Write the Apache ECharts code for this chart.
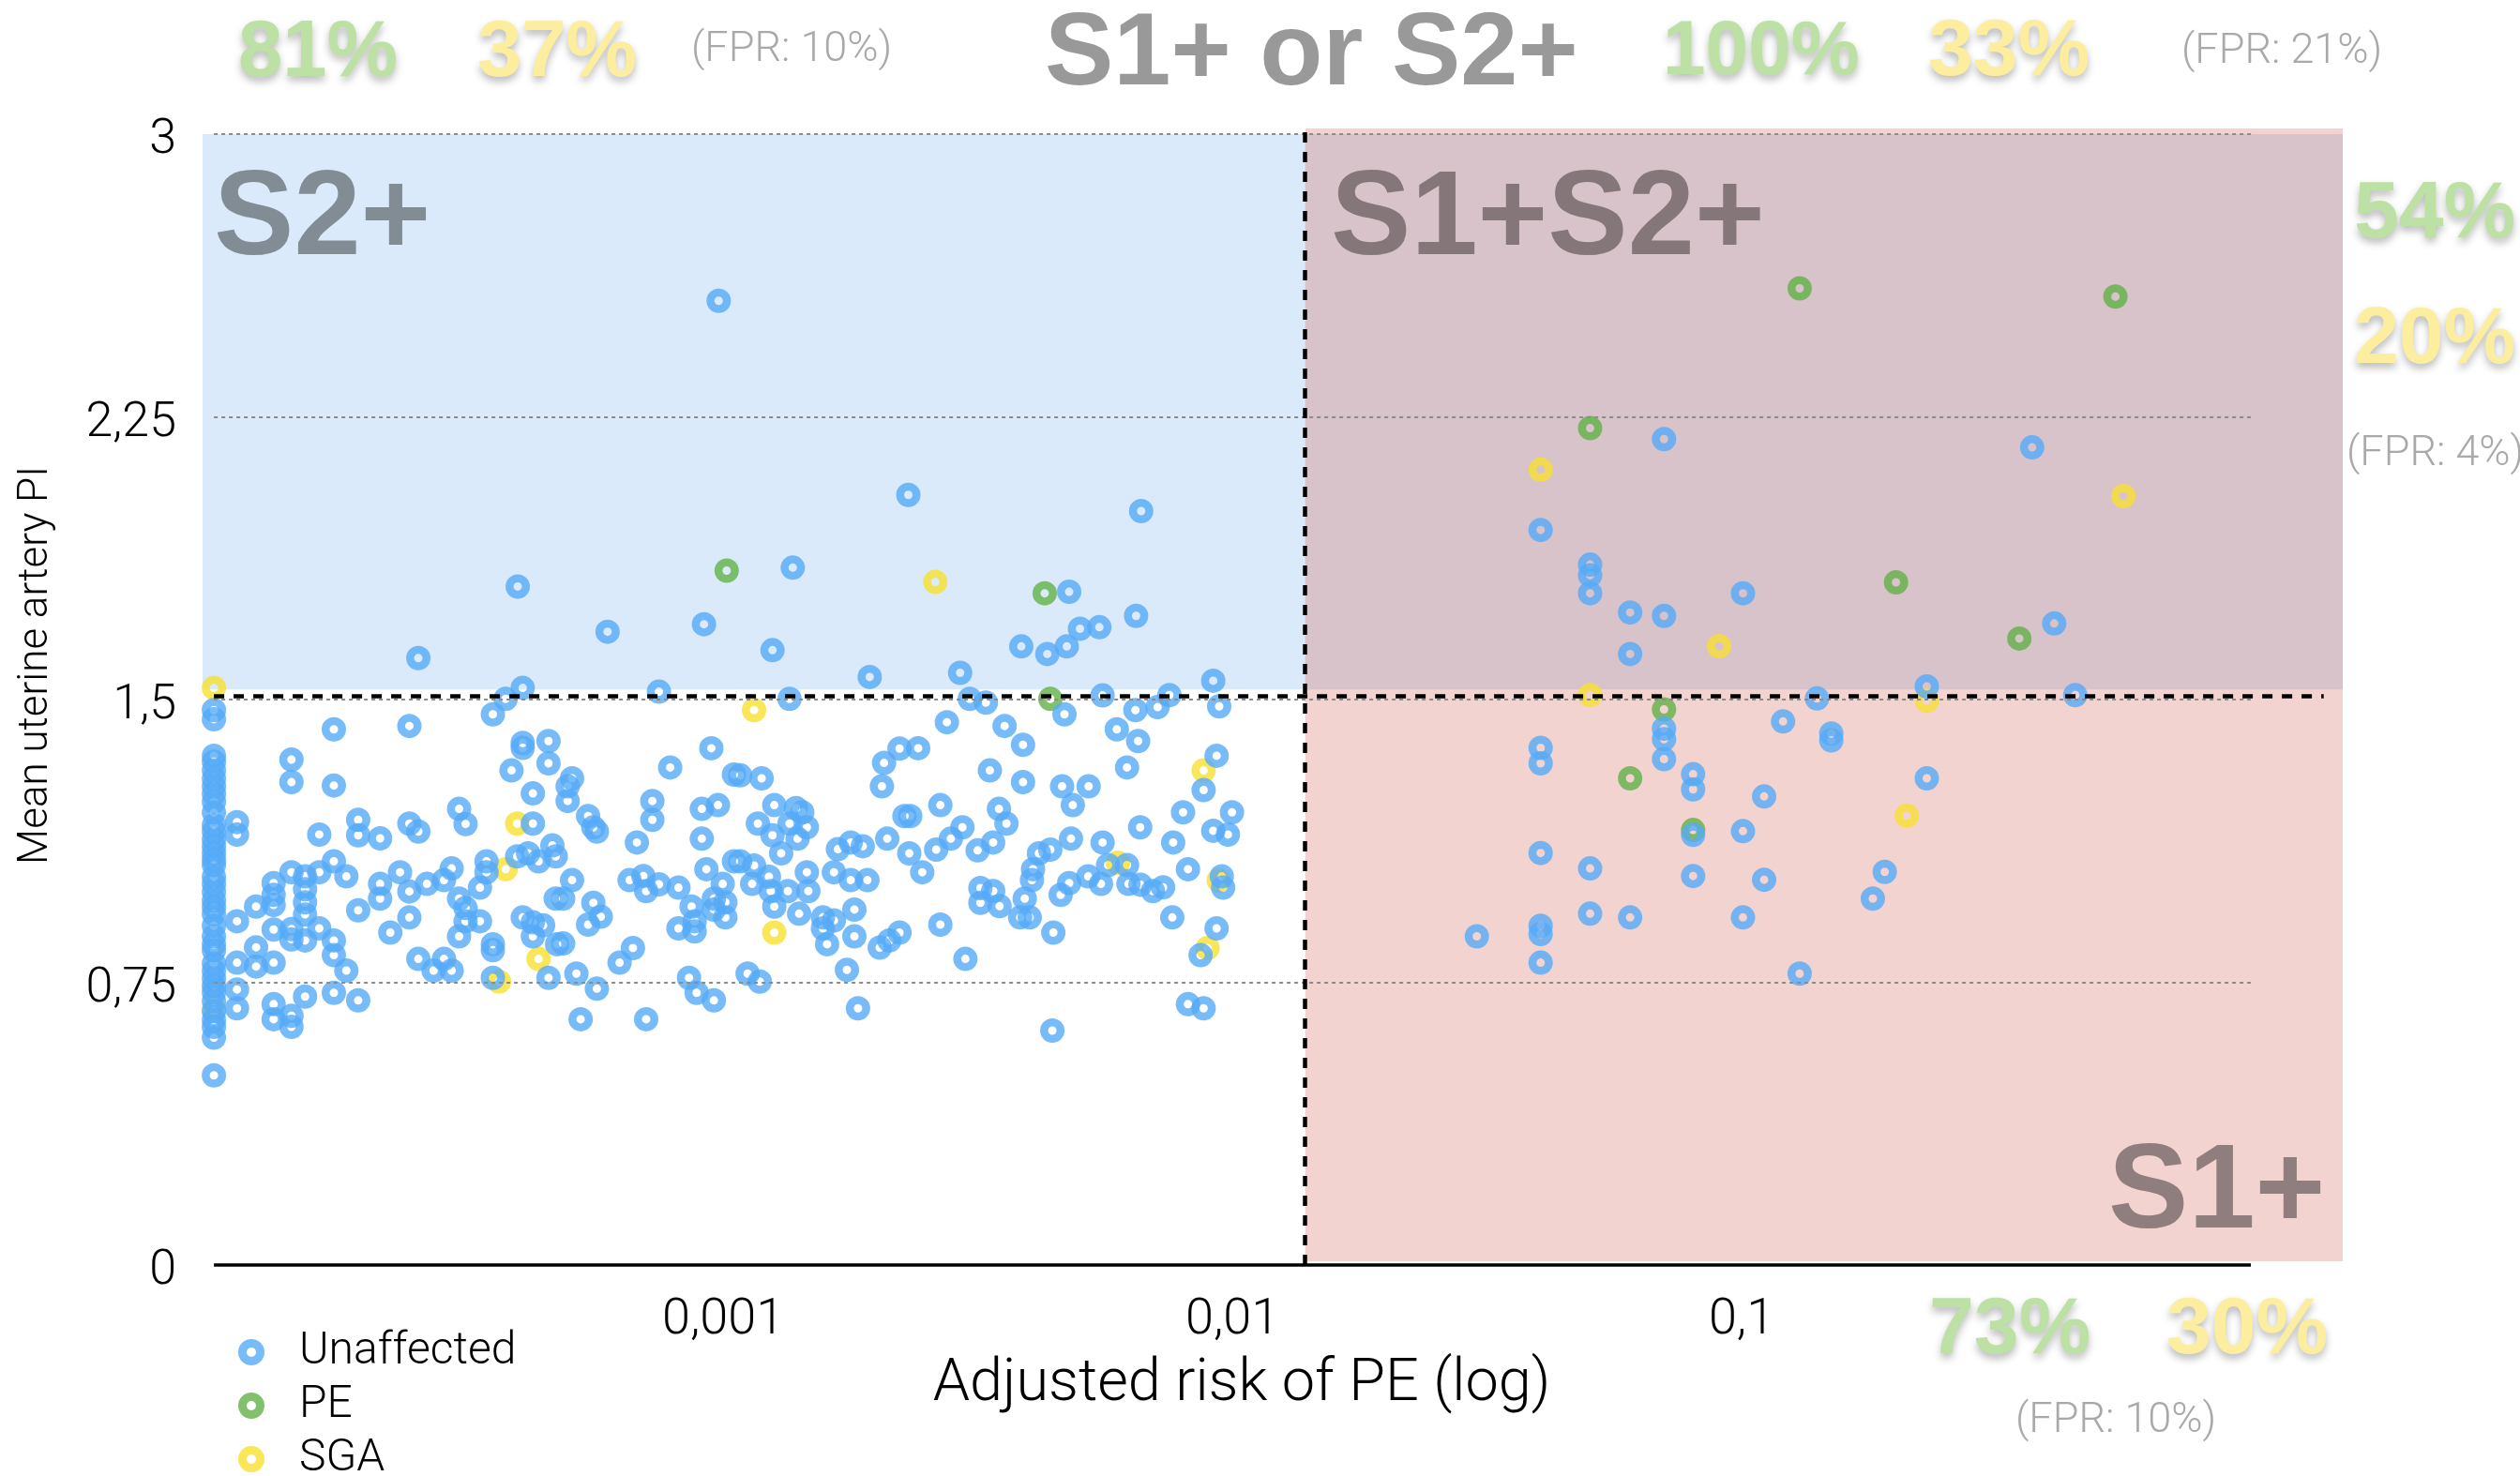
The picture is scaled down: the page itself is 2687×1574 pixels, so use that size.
<!DOCTYPE html>
<html><head><meta charset="utf-8">
<script src="https://cdn.jsdelivr.net/npm/echarts@6/dist/echarts.min.js"></script>
<style>html,body{margin:0;padding:0;background:#fff}#c{width:2687px;height:1574px}</style>
</head><body><div id="c"></div>
<script>
// ---------- data ----------
const seriesNames = ['Unaffected', 'PE', 'SGA'];
const xTickExponents = [-3, -2, -1];
const xTickLabels = ['0,001', '0,01', '0,1'];
const yTickValues = [0, 0.75, 1.5, 2.25, 3];
const yTickLabels = ['0', '0,75', '1,5', '2,25', '3'];
const gridLevels = [0.75, 1.5, 2.25, 3];
const riskCut = 0.0139;   // vertical screening cut-off
const piCut = 1.51;       // horizontal screening cut-off

const unaffected = [
 [1e-4,1.472],[1e-4,1.448],[1e-4,1.351],[1e-4,1.335],[1e-4,1.312],[1e-4,1.29],[1e-4,1.27],[1e-4,1.25],[1e-4,1.229],[1e-4,1.2],
 [1e-4,1.167],[1e-4,1.15],[1e-4,1.129],[1e-4,1.11],[1e-4,1.092],[1e-4,1.075],[1e-4,1.061],[1e-4,1.03],[1e-4,1.011],[1e-4,0.99],
 [1e-4,0.967],[1e-4,0.95],[1e-4,0.931],[1e-4,0.9],[1e-4,0.872],[1e-4,0.85],[1e-4,0.835],[1e-4,0.8],[1e-4,0.78],[1e-4,0.76],
 [1e-4,0.74],[1e-4,0.723],[1e-4,0.7],[1e-4,0.673],[1e-4,0.65],[1e-4,0.632],[1e-4,0.603],[1e-4,0.503],
 [1.72e-4,1.421],[2.42e-4,1.43],[1.42e-4,1.341],[1.42e-4,1.281],[1.72e-4,1.272],[1.11e-4,1.175],[1.11e-4,1.142],[1.61e-4,1.142],
 [1.92e-4,1.181],[1.92e-4,1.14],[2.12e-4,1.132],[2.42e-4,1.171],[2.52e-4,1.15],[3.03e-4,1.21],[3.12e-4,1.17],[4.23e-4,1.171],
 [4.23e-4,1.251],[3.84e-4,1.312],[4.04e-4,1.372],[4.04e-4,1.385],[4.54e-4,1.39],[4.54e-4,1.331],[2.52e-4,1.61],[4.04e-4,1.531],
 [3.74e-4,1.502],[3.53e-4,1.461],
 [1.42e-4,1.042],[1.51e-4,1.031],[1.61e-4,1.042],[1.72e-4,1.071],[1.82e-4,1.031],[1.31e-4,1.013],[1.31e-4,0.982],[1.21e-4,0.951],
 [1.31e-4,0.955],[1.51e-4,0.997],[1.51e-4,0.962],[1.51e-4,0.93],[1.11e-4,0.912],[1.92e-4,0.941],[2.12e-4,1.011],[2.12e-4,0.972],
 [2.32e-4,1.042],[2.42e-4,0.991],[2.62e-4,1.011],[2.83e-4,1.021],[2.93e-4,1.052],[3.03e-4,0.972],[3.12e-4,0.947],[3.33e-4,1.001],
 [3.43e-4,1.071],[3.43e-4,1.042],[3.33e-4,0.912],[3.12e-4,0.912],[2.42e-4,0.922],[2.22e-4,0.882],[3.03e-4,0.872],[3.53e-4,0.851],
 [3.53e-4,0.835],[3.94e-4,1.084],[4.14e-4,1.092],[4.34e-4,1.071],[4.62e-4,1.113],[4.69e-4,1.084],[4.04e-4,0.922],[4.23e-4,0.909],
 [4.43e-4,0.901],[4.23e-4,0.872],[4.69e-4,0.972],[4.72e-4,0.851],
 [1.21e-4,0.843],[1.21e-4,0.792],[1.31e-4,0.89],[1.42e-4,0.891],[1.42e-4,0.864],[1.51e-4,0.861],[1.61e-4,0.893],[1.72e-4,0.861],
 [1.72e-4,0.822],[1.82e-4,0.781],[1.31e-4,0.802],[1.11e-4,0.802],[2.52e-4,0.812],[2.7e-4,0.781],[2.83e-4,0.812],[2.93e-4,0.781],
 [3.53e-4,0.762],[4.54e-4,0.762],
 [1.11e-4,0.731],[1.11e-4,0.681],[1.31e-4,0.692],[1.31e-4,0.652],[1.42e-4,0.661],[1.42e-4,0.632],[1.51e-4,0.712],[1.72e-4,0.722],
 [1.92e-4,0.702],
 [1.25e-3,1.631],[1.94e-3,1.56],[7.48e-4,1.521],[1.35e-3,1.502],[9.48e-4,1.371],[7.87e-4,1.32],[1.05e-3,1.301],[1.08e-3,1.299],
 [1.19e-3,1.291],[5.05e-4,1.291],[4.95e-4,1.27],[4.95e-4,1.231],[2.07e-3,1.332],[2.22e-3,1.37],[2.05e-3,1.27],[7.26e-4,1.231],
 [7.26e-4,1.181],[9.08e-4,1.21],[9.77e-4,1.22],[9.08e-4,1.131],[5.43e-4,1.191],[5.56e-4,1.161],[5.65e-4,1.15],[6.77e-4,1.121],
 [1.26e-3,1.22],[1.39e-3,1.212],[1.43e-3,1.201],[1.35e-3,1.171],[1.46e-3,1.161],[1.17e-3,1.171],[1.25e-3,1.14],[1.4e-3,1.131],
 [1.3e-3,1.092],[2.27e-3,1.191],[2.33e-3,1.191],[2.1e-3,1.131],[2.32e-3,1.092],[1.68e-3,1.103],[1.78e-3,1.121],[1.88e-3,1.111],
 [1.65e-3,1.042],[1.78e-3,1.021],[1.92e-3,1.021],[1.46e-3,1.042],[1.47e-3,0.992],[1.34e-3,0.992],[1.24e-3,0.992],[1.23e-3,1.03],
 [1.14e-3,1.011],[1.15e-3,1.06],[1.08e-3,1.071],[1.05e-3,1.071],[9.27e-4,1.05],[9.98e-4,1.011],[1.01e-3,0.962],[1.01e-3,0.922],
 [9.59e-4,0.972],[9.59e-4,0.943],[1.26e-3,0.951],[1.41e-3,0.932],[1.57e-3,0.922],[1.57e-3,0.893],[1.6e-3,0.851],[1.65e-3,0.914],
 [1.81e-3,0.943],[1.81e-3,0.872],[1.75e-3,0.783],[2.03e-3,0.842],[2.12e-3,0.861],[2.22e-3,0.882],[1.84e-3,0.681],[6.55e-4,1.021],
 [6.97e-4,1.032],[7.06e-4,0.992],[7.48e-4,1.01],[8.17e-4,1.001],[8.67e-4,0.951],[8.79e-4,0.912],[8.17e-4,0.893],[8.79e-4,0.885],
 [5.05e-4,1.021],[4.85e-4,0.972],[5.56e-4,0.961],[5.75e-4,0.924],[5.43e-4,0.903],[4.85e-4,0.853],[6.65e-4,0.841],[6.26e-4,0.802],
 [5.15e-4,0.773],[5.65e-4,0.733],[5.25e-4,0.652],[7.06e-4,0.652],[8.57e-4,0.762],[8.87e-4,0.722],[9.59e-4,0.702],[1.117e-3,0.773],
 [1.18e-3,0.752],
 [3.85e-3,1.641],[4.33e-3,1.621],[4.73e-3,1.641],[2.92e-3,1.571],[9.17e-3,1.55],[3.05e-3,1.502],[3.28e-3,1.492],[5.56e-3,1.511],
 [7.52e-3,1.512],[7.13e-3,1.48],[6.45e-3,1.472],[9.42e-3,1.482],[4.68e-3,1.461],[2.75e-3,1.44],[3.57e-3,1.43],[3.88e-3,1.38],
 [2.415e-3,1.371],[5.93e-3,1.421],[6.53e-3,1.39],[9.31e-3,1.351],[6.21e-3,1.32],[8.78e-3,1.26],[3.34e-3,1.312],[3.88e-3,1.281],
 [4.63e-3,1.27],[5.22e-3,1.27],[4.86e-3,1.22],[2.67e-3,1.22],[3.48e-3,1.21],[3.6e-3,1.171],[2.95e-3,1.161],[2.8e-3,1.131],
 [2.62e-3,1.102],[3.16e-3,1.1],[3.39e-3,1.121],[8e-3,1.201],[9.98e-3,1.201],[6.59e-3,1.161],[9.17e-3,1.152],[9.8e-3,1.142],
 [7.65e-3,1.121],[4.82e-3,1.131],[5.56e-3,1.121],[4.17e-3,1.092],[4.39e-3,1.102],[4.06e-3,1.05],[4.04e-3,1.021],[5.7e-3,1.061],
 [6.21e-3,1.061],[8.18e-3,1.05],[9.53e-3,1.031],[9.59e-3,1.001],[2.46e-3,1.042],[3.39e-3,0.992],[3.2e-3,1.0],[3.2e-3,0.961],
 [3.49e-3,0.952],[3.91e-3,0.972],[3.83e-3,0.922],[4e-3,0.922],[4.78e-3,1.013],[4.6e-3,0.982],[5.21e-3,1.031],[5.52e-3,1.011],
 [6.25e-3,1.011],[6.98e-3,0.992],[7.31e-3,1.002],[6.6e-3,1.009],[7.62e-3,0.922],[2.67e-3,0.903],[4.45e-3,0.882],[2.99e-3,0.812],
 [9.31e-3,0.893],[8.66e-3,0.822],[8.18e-3,0.692],[8.78e-3,0.681],[4.43e-3,0.622],
 [9.8e-4,2.558],[2.31e-3,2.043],[6.62e-3,2.0],[3.95e-4,1.8],[1.37e-3,1.85],[4.78e-3,1.786],[6.47e-3,1.722],[5.93e-4,1.68],
 [9.17e-4,1.7],[5.02e-3,1.688],[5.48e-3,1.692],
 [0.0704,2.191],[0.372,2.169],[0.0403,1.95],[0.0504,1.858],[0.0504,1.83],[0.0504,1.782],[0.1006,1.782],[0.0604,1.731],
 [0.0704,1.722],[0.411,1.702],[0.0604,1.621],[0.231,1.535],[0.1406,1.503],[0.452,1.512],[0.1206,1.442],[0.0704,1.423],
 [0.0704,1.395],[0.0704,1.342],[0.15,1.41],[0.15,1.392],[0.0403,1.372],[0.0403,1.331],[0.0803,1.302],[0.0803,1.262],
 [0.231,1.291],[0.1107,1.243],[0.0803,1.141],[0.1006,1.151],[0.0403,1.093],[0.0504,1.052],[0.0803,1.032],[0.1107,1.022],
 [0.191,1.043],[0.181,0.972],[0.0504,0.932],[0.0604,0.922],[0.1006,0.922],[0.0403,0.9],[0.0403,0.878],[0.0302,0.872],
 [0.0403,0.802],[0.13,0.773]
];
const pe = [
 [1.016e-3,1.842],[4.28e-3,1.782],[4.39e-3,1.502],[0.13,2.591],[0.542,2.569],[0.0504,2.22],[0.201,1.811],[0.351,1.662],
 [0.0704,1.474],[0.0604,1.291],[0.0803,1.154]
];
const sga = [
 [1e-4,1.531],[1e-4,0.68],[2.61e-3,1.812],[1.15e-3,1.472],[3.74e-4,1.05],[3.94e-4,1.171],[3.63e-4,0.752],[4.34e-4,0.812],
 [1.26e-3,0.882],[8.78e-3,1.312],[5.96e-3,1.067],[9.4e-3,1.02],[8.94e-3,0.841],[0.0403,2.11],[0.562,2.04],[0.0903,1.642],
 [0.0504,1.512],[0.231,1.497],[0.211,1.192]
];

// ---------- styling ----------
const colors = { Unaffected: '#55aaf7', PE: '#62b246', SGA: '#f8e030' };
const lightFont = 'Roboto, "Liberation Sans", sans-serif';
const boldFont = '"Liberation Sans", Arial, sans-serif';
const xMin = 9.5e-5, xMax = 1.515;

function scatterSeries(name, data, z) {
  return {
    name, type: 'scatter', data, z,
    symbol: 'circle', symbolSize: 17.5,
    itemStyle: { color: 'rgba(0,0,0,0)', borderColor: colors[name], borderWidth: 8.5 },
    emphasis: { disabled: true }, silent: true
  };
}

function txt(text, x, y, size, fill, bold, shadow) {
  const style = {
    text, x: 0, y: 0, fill,
    font: (bold ? 'bold ' : '300 ') + size + 'px ' + (bold ? boldFont : lightFont),
    align: 'left', verticalAlign: 'middle',
    textAlign: 'left', textVerticalAlign: 'middle'
  };
  if (shadow) {
    style.textShadowColor = 'rgba(0,0,0,0.28)';
    style.textShadowBlur = 8;
    style.textShadowOffsetY = 5;
  }
  return { type: 'text', x, y, z: 100, silent: true, style };
}

const green = '#bde0a4', yellow = '#fcee9e', fpr = '#a9a9a9';

const chart = echarts.init(document.getElementById('c'), null, { renderer: 'canvas' });
chart.setOption({
  animation: false,
  backgroundColor: '#ffffff',
  grid: { left: 216, right: 189, top: 131, bottom: 225, containLabel: false },
  xAxis: {
    type: 'log', logBase: 10, min: xMin, max: xMax,
    axisLine: { show: false }, axisTick: { show: false }, splitLine: { show: false },
    axisLabel: {
      margin: 32, color: '#000', fontFamily: 'Roboto', fontWeight: 300, fontSize: 54,
      showMinLabel: true, showMaxLabel: true,
      formatter: function (v) {
        const e = Math.log10(v), r = Math.round(e);
        if (Math.abs(e - r) > 1e-6) return '';
        const i = xTickExponents.indexOf(r);
        return i < 0 ? '' : xTickLabels[i];
      }
    },
    name: 'Adjusted risk of PE (log)', nameLocation: 'middle', nameGap: 97,
    nameTextStyle: { color: '#000', fontFamily: 'Roboto', fontWeight: 300, fontSize: 63, padding: [0, 66, 0, 0] }
  },
  yAxis: {
    type: 'value', min: 0, max: 3.03, interval: 0.75,
    axisLine: { show: false }, axisTick: { show: false }, splitLine: { show: false },
    axisLabel: {
      margin: 28, color: '#000', fontFamily: 'Roboto', fontWeight: 300, fontSize: 52,
      verticalAlign: 'top', lineHeight: 14,
      formatter: function (v) {
        for (let i = 0; i < yTickValues.length; i++) if (Math.abs(v - yTickValues[i]) < 1e-6) return yTickLabels[i];
        return '';
      }
    },
    name: 'Mean uterine artery PI', nameLocation: 'middle', nameRotate: 90, nameGap: 155,
    nameTextStyle: { color: '#000', fontFamily: 'Roboto', fontWeight: 300, fontSize: 44, padding: [0, 0, 0, 61] }
  },
  legend: {
    orient: 'vertical', left: 254, top: 1418, height: 240, padding: 0,
    itemWidth: 92, itemHeight: 19, itemGap: 9,
    selectedMode: false,
    data: seriesNames,
    itemStyle: { borderWidth: 9 },
    textStyle: { color: '#000', fontFamily: 'Roboto', fontWeight: 300, fontSize: 48 }
  },
  series: [
    {
      type: 'line', data: [], z: 1, silent: true,
      markLine: {
        silent: true, symbol: 'none', animation: false, label: { show: false },
        lineStyle: { color: '#8c8c8c', type: [4, 4], width: 2 },
        data: gridLevels.map(v => [{ coord: [1e-4, v] }, { coord: [1, v] }]).concat([
          [{ coord: [1e-4, 0], lineStyle: { color: '#000', type: 'solid', width: 3.5 } }, { coord: [1, 0] }]
        ])
      }
    },
    scatterSeries('SGA', sga, 2),
    scatterSeries('PE', pe, 2),
    scatterSeries('Unaffected', unaffected, 2),
    {
      type: 'line', data: [], z: 3, silent: true,
      markLine: {
        silent: true, symbol: 'none', animation: false, label: { show: false },
        lineStyle: { color: '#000', type: [11, 10], width: 4.5 },
        data: [
          [{ coord: [1e-4, piCut] }, { coord: [1.39, piCut] }],
          [{ coord: [riskCut, 0] }, { coord: [riskCut, 3.027] }]
        ]
      }
    },
    {
      type: 'line', data: [], z: 4, silent: true,
      markArea: {
        silent: true, animation: false, label: { show: false },
        data: [
          [{ coord: [xMin, 1.527], itemStyle: { color: 'rgba(75,150,230,0.2)' } }, { coord: [xMax, 3.0] }],
          [{ coord: [riskCut, 0.01], itemStyle: { color: 'rgba(208,80,64,0.25)' } }, { coord: [xMax, 3.015] }]
        ]
      }
    }
  ],
  graphic: { elements: [
    txt('81%', 254, 58, 85, green, true, true),
    txt('37%', 509, 58, 85, yellow, true, true),
    txt('(FPR: 10%)', 737, 54, 45, fpr, false, false),
    txt('S1+ or S2+', 1114, 60, 110, '#999999', true, false),
    txt('100%', 1773, 56, 82, green, true, true),
    txt('33%', 2056, 56, 86, yellow, true, true),
    txt('(FPR: 21%)', 2326, 56, 45, fpr, false, false),
    txt('S2+', 228, 236, 128, '#818c94', true, false),
    txt('S1+S2+', 1419, 236, 128, '#847679', true, false),
    txt('S1+', 2248, 1274, 128, '#8f7e7d', true, false),
    txt('54%', 2510, 229, 86, green, true, true),
    txt('20%', 2510, 363, 86, yellow, true, true),
    txt('(FPR: 4%)', 2502, 485, 45, fpr, false, false),
    txt('73%', 2057, 1419, 86, green, true, true),
    txt('30%', 2310, 1419, 86, yellow, true, true),
    txt('(FPR: 10%)', 2149, 1516, 45, fpr, false, false)
  ]}
});
</script></body></html>
